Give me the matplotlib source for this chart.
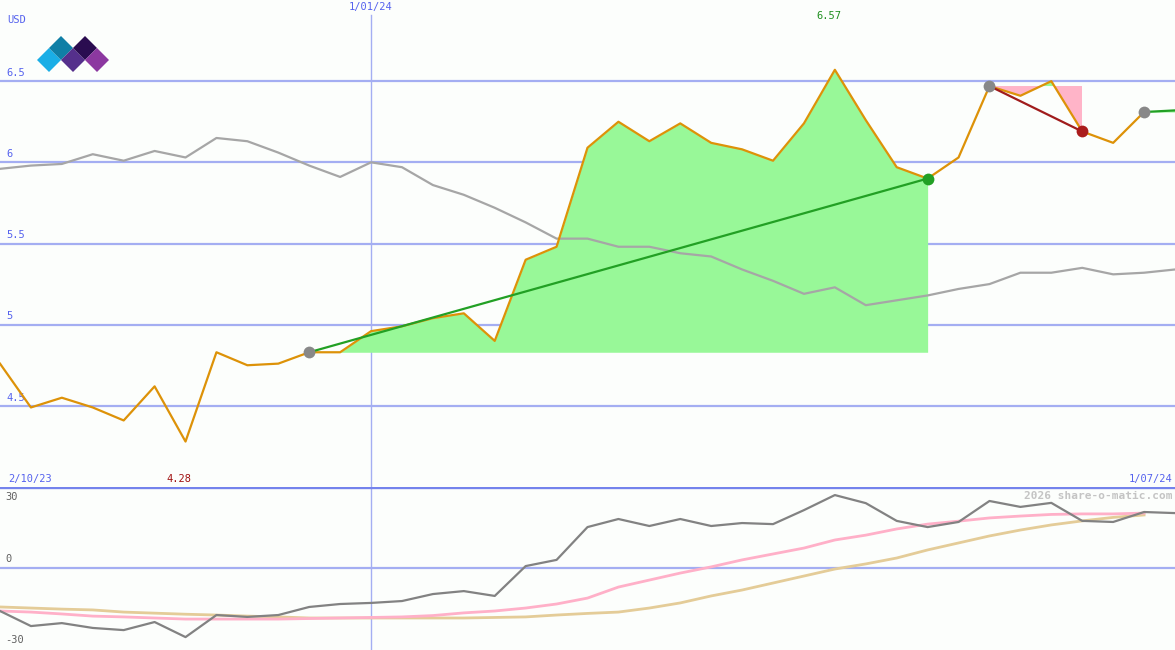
import numpy as np
import matplotlib.pyplot as plt
from matplotlib.patches import Polygon

# weekly closes, USD
price = [4.76, 4.49, 4.55, 4.49, 4.41, 4.62, 4.28, 4.83, 4.75, 4.76,
         4.83, 4.83, 4.96, 4.99, 5.04, 5.07, 4.90, 5.40, 5.48, 6.09,
         6.25, 6.13, 6.24, 6.12, 6.08, 6.01, 6.24, 6.57, 6.26, 5.97,
         5.90, 6.03, 6.47, 6.41, 6.50, 6.19, 6.12, 6.31]
# moving average (grey)
avg = [5.96, 5.98, 5.99, 6.05, 6.01, 6.07, 6.03, 6.15, 6.13, 6.06,
       5.98, 5.91, 6.00, 5.97, 5.86, 5.80, 5.72, 5.63, 5.53, 5.53,
       5.48, 5.48, 5.44, 5.42, 5.34, 5.27, 5.19, 5.23, 5.12, 5.15,
       5.18, 5.22, 5.25, 5.32, 5.32, 5.35, 5.31, 5.32, 5.34]
# lower panel oscillator and its two averages
mom = [-16.1, -21.7, -20.6, -22.4, -23.2, -20.2, -25.8, -17.6, -18.3, -17.6,
       -14.6, -13.5, -13.1, -12.4, -9.8, -8.7, -10.5, 0.6, 2.9, 15.1,
       18.1, 15.5, 18.1, 15.5, 16.6, 16.2, 21.4, 27.0, 24.0, 17.4,
       15.1, 17.0, 24.8, 22.6, 24.1, 17.4, 17.0, 20.7, 20.3]
mom_fast = [-16.1, -16.5, -17.2, -18.0, -18.3, -18.7, -19.1, -19.1, -19.1, -19.1,
            -18.9, -18.7, -18.5, -18.3, -17.8, -16.8, -16.1, -15.0, -13.5, -11.3,
            -7.2, -4.6, -2.0, 0.3, 2.9, 5.1, 7.3, 10.3, 12.1, 14.4,
            16.2, 17.3, 18.5, 19.2, 19.8, 20.0, 20.0, 20.3]
mom_slow = [-14.6, -15.0, -15.4, -15.7, -16.5, -16.9, -17.3, -17.6, -18.0, -18.3,
            -18.7, -18.7, -18.7, -18.7, -18.7, -18.7, -18.5, -18.3, -17.6, -17.0,
            -16.5, -15.0, -13.1, -10.5, -8.3, -5.7, -3.1, -0.5, 1.4, 3.6,
            6.6, 9.2, 11.8, 14.0, 15.9, 17.4, 18.7, 19.6]

price_grid = [4.5, 5, 5.5, 6, 6.5]
price_labels = ['4.5', '5', '5.5', '6', '6.5']
mom_ticks = [30, 0, -30]
mom_labels = ['30', '0', '-30']
year_idx = 12
last_trend = 6.32

W, H = 1175, 650
bg = '#fcfefc'
blue = '#5562ee'
grid_c = '#a4aef2'
mono = 'DejaVu Sans Mono'

fig = plt.figure(figsize=(W / 100, H / 100), dpi=100, facecolor=bg)
split = 487
ax = fig.add_axes([0, (H - split) / H, 1, split / H])
ax2 = fig.add_axes([0, 0, 1, (H - split) / H])
for a in (ax, ax2):
    a.set_facecolor(bg)
    a.axis('off')
    a.set_xlim(0, 38)

ax.set_ylim(4.0, 7.0)
ax2.set_ylim(-30.6, 30)

x = np.arange(len(price))
xa = np.arange(len(avg))
p = np.array(price)

# grid
for g, lab in zip(price_grid, price_labels):
    ax.axhline(g, color=grid_c, lw=1.6, zorder=1)
    ax.text(0.22, g + 0.02, lab, color=blue, fontsize=7.5, family=mono, va='bottom')
ax.axvline(year_idx, ymax=0.97, color=grid_c, lw=1, zorder=1)
ax2.axvline(year_idx, color=grid_c, lw=1, zorder=1)
ax2.axhline(0, color=grid_c, lw=1.6, zorder=1)
ax2.axhline(30, color='#7483ec', lw=2.4, zorder=1)

# up trend 10 -> 30
i0, i1 = 10, 30
ax.fill_between(x[i0:i1 + 1], p[i0], p[i0:i1 + 1], color='#98f898', lw=0, zorder=2)
# down trend 32 -> 35
j0, j1 = 32, 35
seg = p[j0:j1 + 1]
ax.fill_between(x[j0:j1 + 1], p[j0], seg, where=seg <= p[j0], interpolate=True,
                color='#ffb4c8', lw=0, zorder=2)
ax.fill_between(x[j0:j1 + 1], p[j0], seg, where=seg >= p[j0], interpolate=True,
                color='#98f898', lw=0, zorder=2)
ax.fill_between([37, 38], [p[37], p[37]], [p[37], last_trend], color='#98f898', lw=0, zorder=2)

ax.plot(xa, avg, color='#a6a6a6', lw=1.6, zorder=3)
ax.plot(x, price, color='#dd9208', lw=1.6, zorder=4)

ax.plot([i0, i1], [p[i0], p[i1]], color='#22a024', lw=1.6, zorder=5)
ax.plot([j0, j1], [p[j0], p[j1]], color='#a01c1c', lw=1.6, zorder=5)
ax.plot([37, 38], [p[37], last_trend], color='#22a024', lw=1.6, zorder=5)

for idx, c in [(i0, '#888888'), (i1, '#22a024'), (j0, '#888888'), (j1, '#aa1c1c'), (37, '#888888')]:
    ax.plot(idx, p[idx], 'o', ms=8.5, color=c, mec='none', zorder=6)

# lower panel
ax2.plot(np.arange(len(mom_slow)), mom_slow, color='#e4cc98', lw=2, zorder=3)
ax2.plot(np.arange(len(mom_fast)), mom_fast, color='#ffb0c8', lw=2, zorder=3)
ax2.plot(np.arange(len(mom)), mom, color='#828282', lw=1.6, zorder=4)
for t, lab in zip(mom_ticks, mom_labels):
    ax2.text(0.16, t - 2 if t > 0 else t + 1.2, lab, color='#606060', fontsize=7.5,
             family=mono, va='top' if t > 0 else 'bottom')

# labels
def fx(px):
    return px / W

def fy(py):
    return 1 - py / H

fig.text(fx(7), fy(20), 'USD', color=blue, fontsize=7.5, family=mono, va='center')
ax.text(year_idx, 6.985, '1/01/24', color=blue, fontsize=7.5, family=mono, ha='center', va='top')
imax = int(np.argmax(p))
imin = int(np.argmin(p))
ax.text(imax - 0.2, 6.90, f'{p[imax]:.2f}', color='#209020', fontsize=7.5, family=mono,
        ha='center', va='center')
ax.text(imin - 0.2, 4.05, f'{p[imin]:.2f}', color='#a01010', fontsize=7.5, family=mono,
        ha='center', va='center')
fig.text(fx(8), fy(479), '2/10/23', color=blue, fontsize=7.5, family=mono, va='center')
fig.text(fx(1172), fy(479), '1/07/24', color=blue, fontsize=7.5, family=mono, va='center', ha='right')
fig.text(fx(1172), fy(496), '2026 share-o-matic.com', color='#c4c4c4', fontsize=8,
         family=mono, weight='bold', va='center', ha='right')

# logo
logo = [((49, 60), '#1aaee6'), ((61, 48), '#107fa6'), ((73, 60), '#55308c'),
        ((85, 48), '#2a0c50'), ((97, 60), '#8c38a0')]
r = 12
for (cx, cy), c in logo:
    verts = [(fx(cx - r), fy(cy)), (fx(cx), fy(cy - r)), (fx(cx + r), fy(cy)), (fx(cx), fy(cy + r))]
    fig.add_artist(Polygon(verts, closed=True, transform=fig.transFigure, color=c, lw=0))

fig.savefig('out.png', dpi=100, facecolor=bg)
